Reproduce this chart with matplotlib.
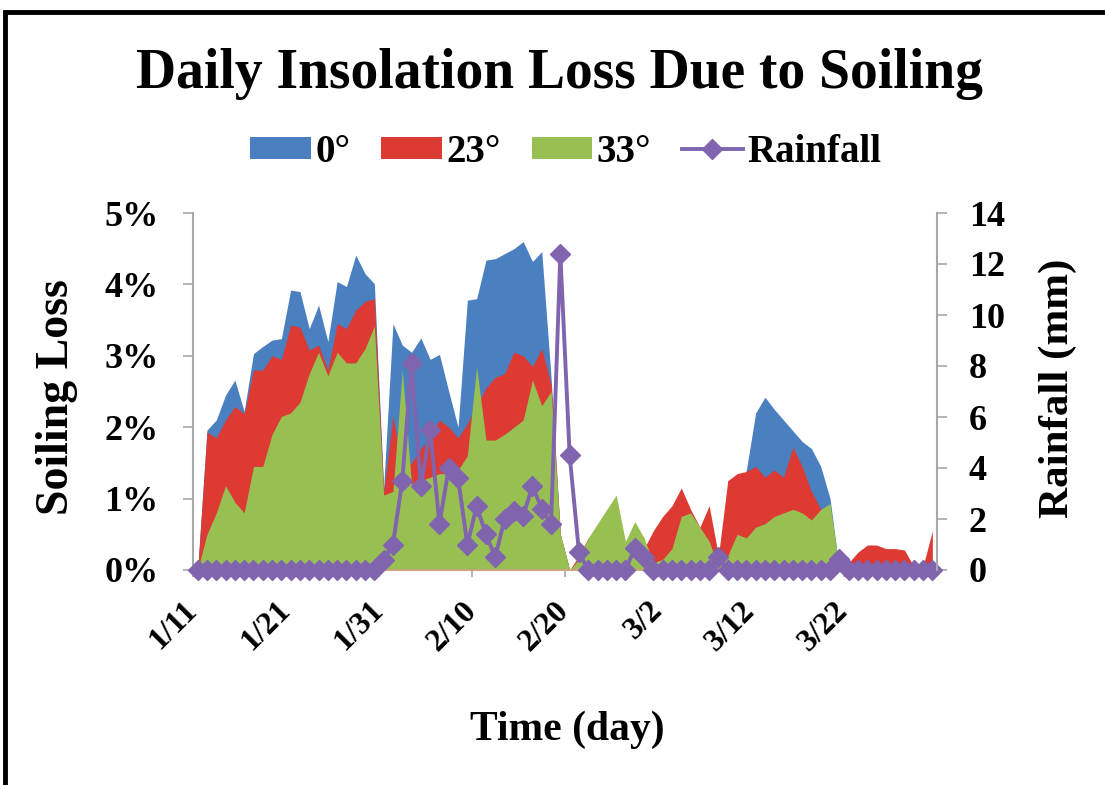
import matplotlib
matplotlib.use('Agg')
import matplotlib.pyplot as plt
from matplotlib import rc
from matplotlib.patches import Rectangle
from matplotlib.transforms import ScaledTranslation
import numpy as np

rc('font', family='Liberation Serif', weight='bold')

# daily values, 1/11 .. 3/31
day_labels = ['1/11', '1/21', '1/31', '2/10', '2/20', '3/2', '3/12', '3/22']

loss_0 = [0, 1.96, 2.1, 2.45, 2.66, 2.22, 3.03, 3.13, 3.22, 3.24,
          3.92, 3.9, 3.38, 3.71, 3.2, 4.04, 3.97, 4.41, 4.15, 4.01,
          1.15, 3.45, 3.15, 3.05, 3.25, 2.95, 3.02, 2.5, 2.0, 3.78,
          3.8, 4.34, 4.36, 4.43, 4.5, 4.6, 4.32, 4.46, 2.7, 0.5,
          0, 0, 0, 0, 0, 0, 0, 0, 0, 0,
          0, 0, 0, 0, 0, 0, 0, 0, 1.0, 1.4,
          2.2, 2.42, 2.25, 2.1, 1.95, 1.8, 1.7, 1.45, 1.0, 0,
          0, 0, 0, 0, 0, 0, 0, 0, 0, 0]

loss_23 = [0, 1.93, 1.85, 2.1, 2.29, 2.19, 2.8, 2.8, 3.0, 2.95,
           3.43, 3.4, 3.08, 3.15, 2.8, 3.45, 3.38, 3.64, 3.76, 3.8,
           1.1, 2.15, 1.45, 1.5, 1.7, 1.85, 2.1, 2.0, 1.85, 2.05,
           2.3, 2.55, 2.7, 2.75, 3.05, 3.0, 2.85, 3.1, 2.6, 0.5,
           0, 0.2, 0.45, 0.55, 0.4, 0.3, 0.3, 0.3, 0.3, 0.55,
           0.75, 0.9, 1.15, 0.85, 0.6, 0.9, 0.2, 1.25, 1.35, 1.38,
           1.45, 1.3, 1.4, 1.3, 1.72, 1.45, 1.1, 0.85, 0.6, 0,
           0.1, 0.25, 0.35, 0.35, 0.3, 0.3, 0.28, 0.05, 0.05, 0.55]

loss_33 = [0, 0.5, 0.8, 1.18, 0.95, 0.8, 1.45, 1.45, 1.9, 2.15,
           2.2, 2.35, 2.75, 3.05, 2.72, 3.05, 2.9, 2.9, 3.1, 3.42,
           1.05, 1.1, 2.8, 1.2, 1.25, 1.3, 1.35, 1.35, 1.4, 1.6,
           2.85, 1.82, 1.82, 1.9, 2.0, 2.1, 2.66, 2.3, 2.5, 0.5,
           0, 0.15, 0.45, 0.65, 0.85, 1.05, 0.4, 0.68, 0.45, 0.1,
           0.15, 0.3, 0.75, 0.8, 0.6, 0.4, 0.05, 0.2, 0.5, 0.45,
           0.6, 0.65, 0.75, 0.8, 0.85, 0.8, 0.7, 0.85, 0.93, 0,
           0, 0, 0, 0, 0, 0, 0, 0, 0, 0]

rainfall = [0, 0, 0, 0, 0, 0, 0, 0, 0, 0,
            0, 0, 0, 0, 0, 0, 0, 0, 0, 0,
            0.4, 1.0, 3.5, 8.1, 3.3, 5.5, 1.8, 4.0, 3.6, 1.0,
            2.5, 1.4, 0.5, 2.0, 2.3, 2.1, 3.3, 2.4, 1.8, 12.4,
            4.5, 0.7, 0, 0, 0, 0, 0, 0.85, 0.5, 0,
            0, 0, 0, 0, 0, 0, 0.5, 0, 0, 0,
            0, 0, 0, 0, 0, 0, 0, 0, 0, 0.45,
            0, 0, 0, 0, 0, 0, 0, 0, 0, 0]

days = np.arange(len(rainfall)) + 0.5     # points sit in the middle of each day

c_blue, c_red, c_green, c_purple = '#4a7fc0', '#dc3a32', '#98bf52', '#8064ae'
axis_grey = '#a8a8a8'

fig = plt.figure(figsize=(11.05, 7.85), dpi=100)
ax = fig.add_axes([193/1105, 1-570/785, 744/1105, 357/785])

ax.fill_between(days, loss_0, color=c_blue, lw=0, label='0°')
ax.fill_between(days, loss_23, color=c_red, lw=0, label='23°')
ax.fill_between(days, loss_33, color=c_green, lw=0, label='33°')

ax.set_xlim(0, 80)
ax.set_ylim(0, 5)
ax.set_yticks(range(6))
ax.set_yticklabels(['%d%%' % v for v in range(6)], fontsize=26)
ax.set_xticks(range(0, 80, 10))
ax.set_xticklabels(day_labels, fontsize=23, rotation=45, ha='right',
                   va='center', rotation_mode='anchor')
for lab in ax.get_xticklabels():
    lab.set_transform(lab.get_transform() + ScaledTranslation(0.19, 0, fig.dpi_scale_trans))

ax.tick_params(axis='y', length=7, width=1.2, color=axis_grey, pad=18)
ax.tick_params(axis='x', length=5, width=1.2, color=axis_grey, pad=21)
ax.spines['top'].set_visible(False)
ax.spines['right'].set_visible(False)
ax.spines['left'].set_color(axis_grey)
ax.spines['left'].set_linewidth(1.5)
ax.spines['bottom'].set_color('#c9a57e')
ax.spines['bottom'].set_linewidth(1.5)

ax2 = ax.twinx()
ax2.plot(days, rainfall, color=c_purple, lw=2.8, marker='D', ms=10,
         label='Rainfall', clip_on=False)
ax2.set_ylim(0, 14)
ax2.set_yticks(range(0, 15, 2))
ax2.set_yticklabels([str(v) for v in range(0, 15, 2)], fontsize=26)
ax2.tick_params(axis='y', length=7, width=1.2, color=axis_grey, pad=16)
for s in ['top', 'left', 'bottom']:
    ax2.spines[s].set_visible(False)
ax2.spines['right'].set_color(axis_grey)
ax2.spines['right'].set_linewidth(1.5)

fig.text(0.506, 1-88/785, 'Daily Insolation Loss Due to Soiling', fontsize=40,
         ha='center', va='baseline')
fig.text(57/1105, 1-397/785, 'Soiling Loss', fontsize=33, rotation=90,
         ha='center', va='center')
fig.text(1058/1105, 1-388/785, 'Rainfall (mm)', fontsize=31, rotation=90,
         ha='center', va='center')
fig.text(567/1105, 1-730/785, 'Time (day)', fontsize=30, ha='center', va='center')

h1, l1 = ax.get_legend_handles_labels()
h2, l2 = ax2.get_legend_handles_labels()
fig.legend(h1 + h2, l1 + l2, loc='center', bbox_to_anchor=(0.512, 1-152/785),
           ncol=4, frameon=False, fontsize=28, handlelength=1.55, handleheight=0.5,
           handletextpad=0.12, columnspacing=0.8, numpoints=1)

# outer frame, open on the right and bottom
fig.add_artist(Rectangle((5/1105, -0.2), 1.2, 1.2 - 12/785, transform=fig.transFigure,
                         fill=False, edgecolor='black', lw=3.5))

fig.savefig('out.png', dpi=100)
